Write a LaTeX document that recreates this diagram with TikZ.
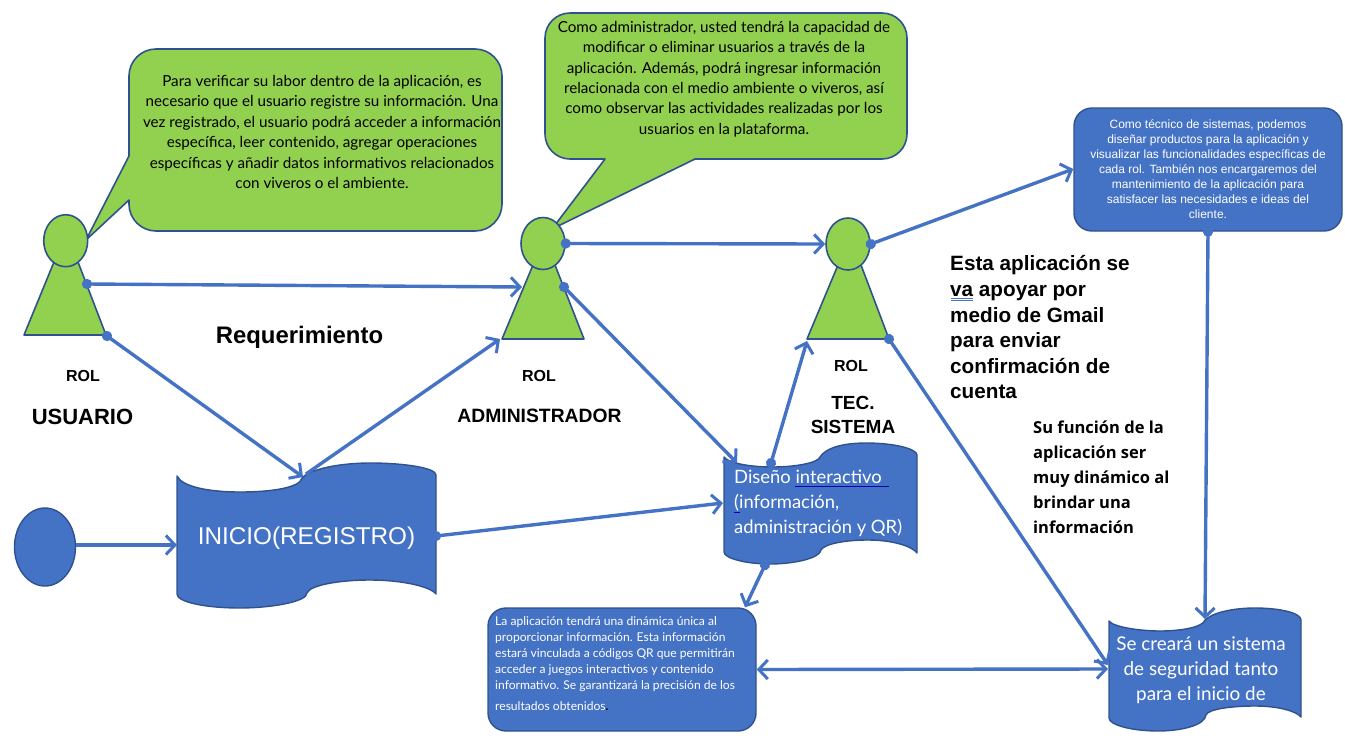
\documentclass[tikz,border=0pt]{standalone}
\usepackage{fontspec}
\setmainfont{Lato}
\newfontfamily\arialf{Liberation Sans}
\newfontfamily\opensf{Open Sans}
\usetikzlibrary{arrows.meta,shapes.geometric}
\definecolor{fgreen}{HTML}{92D050}
\definecolor{fblue}{HTML}{4472C4}
\definecolor{edge}{HTML}{2F528F}
\newcommand{\fs}[2]{\fontsize{#1}{#2}\selectfont}
\tikzset{
 shapegreen/.style={draw=edge,fill=fgreen,line width=1.6pt,line join=round},
 shapeblue/.style={draw=edge,fill=fblue,line width=1.4pt,line join=round},
 head/.style={shapegreen,ellipse,minimum width=44pt,minimum height=52pt,inner sep=0pt},
 bluebox/.style={shapeblue,rounded corners=18pt,inner sep=0pt,minimum width=#1},
 conn/.style={draw=fblue,line width=3.4pt,-{Straight Barb[length=9pt,width=19pt,line width=3pt]}},
 dotconn/.style={draw=fblue,line width=3.4pt,shorten <=-5pt,{Circle[length=10pt,width=10pt]}-{Straight Barb[length=9pt,width=19pt,line width=3pt]}},
 twoconn/.style={draw=fblue,line width=3.4pt,{Straight Barb[length=9pt,width=19pt,line width=3pt]}-{Straight Barb[length=9pt,width=19pt,line width=3pt]}},
 blacktext/.style={text=black,align=center,inner sep=0pt,font=\fs{15.2}{20.4}},
 whitetext/.style={text=white,inner sep=0pt},
 lab/.style={text=black,inner sep=0pt,font=\arialf\bfseries\fs{#1}{#1}},
 para/.style={text=black,inner sep=0pt,align=left,anchor=north west},
}
\begin{document}
\begin{tikzpicture}[x=1pt,y=-1pt]
\useasboundingbox (0,0) rectangle (1345,737);
% callouts
\draw[shapegreen] (156,49) -- (475,49) arc[start angle=-90,end angle=0,radius=27]
  -- (502,204) arc[start angle=0,end angle=90,radius=27]
  -- (156,231) arc[start angle=90,end angle=180,radius=27]
  -- (129,200) -- (86,240) -- (129,156) -- (129,76)
  arc[start angle=180,end angle=270,radius=27] -- cycle;
\draw[shapegreen] (570,13) -- (882,13) arc[start angle=-90,end angle=0,radius=25]
  -- (907,134) arc[start angle=0,end angle=90,radius=25]
  -- (695,159) -- (552,229) -- (605,159) -- (570,159)
  arc[start angle=90,end angle=180,radius=25]
  -- (545,38) arc[start angle=180,end angle=270,radius=25] -- cycle;
% persons
\draw[shapegreen] (24,335) -- (54,262) -- (78,262) -- (106,335) -- cycle;
\draw[shapegreen] (502,339) -- (533,265) -- (555,265) -- (584,339) -- cycle;
\draw[shapegreen] (807,339) -- (838,265) -- (861,265) -- (889,339) -- cycle;
\node[head] (h1) at (65.7,240.7) {};
\node[head] (h2) at (543,243.5) {};
\node[head] (h3) at (848,244) {};
\coordinate (b1) at (107,336);
\coordinate (s1) at (87,284);
\coordinate (s2) at (564,287);
\coordinate (b2in) at (500,339);
\coordinate (a2in) at (522,287);
\coordinate (b3in) at (807,341);
\coordinate (b3) at (889,339);
% start circle
\node[shapeblue,ellipse,minimum width=61pt,minimum height=78pt,inner sep=0pt] (start) at (45,547) {};
% wave shapes
\draw[shapeblue] (177,476) .. controls (182,487) and (210,492) .. (240,492)
  .. controls (270,492) and (300,488) .. (302,478)
  .. controls (310,469) and (340,463) .. (370,463)
  .. controls (405,463) and (436,468) .. (436,475) -- (436,594)
  .. controls (430,586) and (400,580) .. (370,580)
  .. controls (340,580) and (310,585) .. (307,593)
  .. controls (307,602) and (270,608) .. (240,608)
  .. controls (205,608) and (177,602) .. (177,594) -- cycle;
\draw[shapeblue] (724,457) .. controls (728,463) and (750,467) .. (772,467)
  .. controls (795,467) and (818,463) .. (820,457)
  .. controls (825,449) and (840,443) .. (866,443)
  .. controls (895,443) and (917,449) .. (917,455) -- (917,553)
  .. controls (912,546) and (892,540) .. (868,540)
  .. controls (845,540) and (824,544) .. (821,550)
  .. controls (820,558) and (795,564) .. (770,564)
  .. controls (745,564) and (724,558) .. (724,552) -- cycle;
\draw[shapeblue] (1109,621) .. controls (1113,627) and (1140,631) .. (1160,631)
  .. controls (1182,631) and (1203,627) .. (1205,620)
  .. controls (1212,613) and (1232,608) .. (1255,608)
  .. controls (1280,608) and (1301,613) .. (1301,620) -- (1301,717)
  .. controls (1296,711) and (1278,706) .. (1255,706)
  .. controls (1232,706) and (1208,709) .. (1206,715)
  .. controls (1205,725) and (1182,731) .. (1158,731)
  .. controls (1132,731) and (1109,725) .. (1109,718) -- cycle;
\coordinate (w1top) at (303,477);
\coordinate (w1topout) at (306,474);
\coordinate (w1left) at (177,545);
\coordinate (w1right) at (436,536);
\coordinate (w2top) at (737,463);
\coordinate (w2topout) at (771,463);
\coordinate (w2left) at (723,503);
\coordinate (w2bot) at (765,565);
\coordinate (w3top) at (1205,619);
\coordinate (w3left) at (1108,665);
\coordinate (w3left2) at (1108,669);
% blue boxes
\node[bluebox=268pt,minimum height=123pt] (tec) at (1208,169.5) {};
\node[bluebox=268pt,minimum height=123pt] (app) at (622,669.5) {};
% connectors
\draw[dotconn] (s1) -- (a2in);
\draw[dotconn] (b1) -- (w1top);
\draw[conn] (w1topout) -- (b2in);
\draw[dotconn] (h2.east) -- (h3.west);
\draw[dotconn] (s2) -- (w2top);
\draw[dotconn] (w2topout) -- (b3in);
\draw[dotconn] (h3.east) -- (tec.west |- 0,169);
\draw[dotconn] (b3) -- (w3left);
\draw[dotconn] (tec.south) -- (w3top);
\draw[dotconn] (w1right) -- (w2left);
\draw[conn] (start.east |- w1left) -- (w1left);
\draw[dotconn] (w2bot) -- (app.north east -| 745,0);
\draw[twoconn] (app.east) -- (w3left2);
% callout text
\node[blacktext] (t1) at (322,132) {Para verificar su labor dentro de la aplicación, es\\necesario que el usuario registre su información. Una\\vez registrado, el usuario podrá acceder a información\\específica, leer contenido, agregar operaciones\\específicas y añadir datos informativos relacionados\\con viveros o el ambiente.};
\node[blacktext] (t2) at (724,79) {Como administrador, usted tendrá la capacidad de\\modificar o eliminar usuarios a través de la\\aplicación. Además, podrá ingresar información\\relacionada con el medio ambiente o viveros, así\\como observar las actividades realizadas por los\\usuarios en la plataforma.};
\node[whitetext,align=center,font=\arialf\fs{12}{15}] (t3) at (1208,169) {Como técnico de sistemas, podemos\\diseñar productos para la aplicación y\\visualizar las funcionalidades específicas de\\cada rol. También nos encargaremos del\\mantenimiento de la aplicación para\\satisfacer las necesidades e ideas del\\cliente.};
\node[whitetext,align=left,anchor=north west,font=\fs{12.1}{16}] (t4) at (495,616) {La aplicación tendrá una dinámica única al\\proporcionar información. Esta información\\estará vinculada a códigos QR que permitirán\\acceder a juegos interactivos y contenido\\informativo. Se garantizará la precisión de los};
\node[whitetext,anchor=base west,font=\fs{12.1}{16}] (t5) at (495,710) {resultados obtenidos\textcolor{black}{\bfseries.}};
\node[whitetext,font=\arialf\fs{24.3}{26}] (t6) at (306.5,538) {INICIO(REGISTRO)};
\node[whitetext,align=left,anchor=north west,font=\fs{18.4}{24.7}] (t7) at (734,470) {Diseño interactivo\\(información,\\administración y QR)};
\draw[blue!70!black,line width=.7pt] (795,486) -- (889,486);
\draw[blue!70!black,line width=.7pt] (734,512) -- (740,512);
\node[whitetext,align=center,font=\fs{18.9}{25}] (t8) at (1201,670) {Se creará un sistema\\de seguridad tanto\\para el inicio de};
% labels
\node[lab=23.9] (l1) at (299.5,337) {Requerimiento};
\node[lab=16] (l2) at (83,376) {ROL};
\node[lab=22] (l3) at (82.5,417) {USUARIO};
\node[lab=16] (l4) at (539,376) {ROL};
\node[lab=19.3] (l5) at (539.5,416) {ADMINISTRADOR};
\node[lab=16] (l6) at (851,366) {ROL};
\node[lab=19,align=center,font=\arialf\bfseries\fs{19}{24}] (l7) at (853,415) {TEC.\\SISTEMA};
\node[para,font=\arialf\bfseries\fs{20.7}{25.6}] (p1) at (950,255.5) {Esta aplicación se\\va apoyar por\\medio de Gmail\\para enviar\\confirmación de\\cuenta};
\draw[fblue,line width=.8pt] (951,298) -- (973,298) (951,300.5) -- (973,300.5);
\node[para,font=\opensf\bfseries\fs{16.5}{25}] (p2) at (1033,421) {Su función de la\\aplicación ser\\muy dinámico al\\brindar una\\información};
\end{tikzpicture}
\end{document}
